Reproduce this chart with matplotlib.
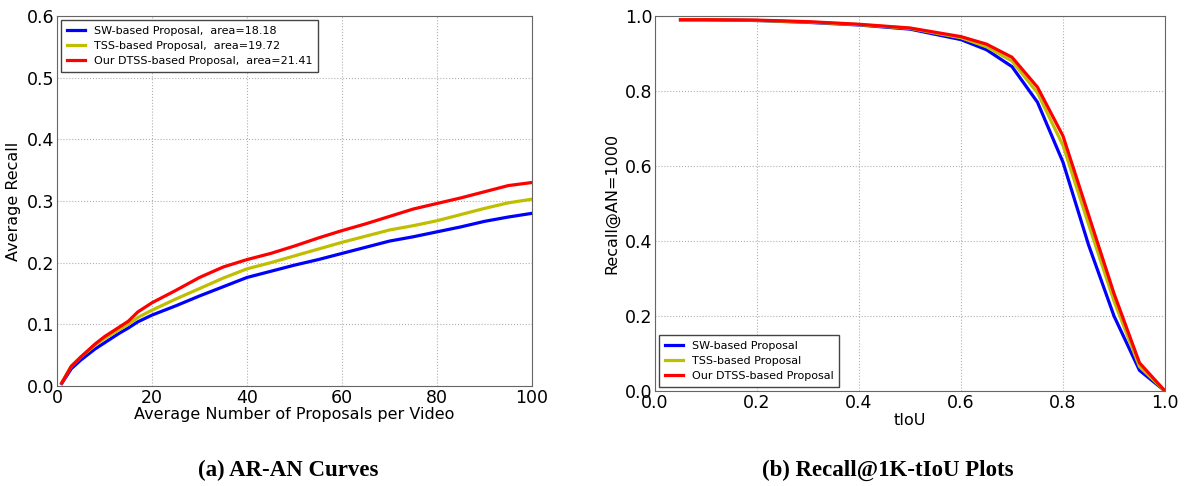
import matplotlib.pyplot as plt

# AR-AN curves (left)
an = [1, 3, 5, 8, 10, 13, 15, 17, 20, 25, 30, 35, 40, 45, 50, 55, 60, 65, 70, 75, 80, 85, 90, 95, 100]
ar_sw = [0.004, 0.028, 0.042, 0.060, 0.070, 0.085, 0.094, 0.104, 0.115, 0.130, 0.146, 0.161, 0.176, 0.186, 0.196, 0.205, 0.215, 0.225, 0.235, 0.242, 0.250, 0.258, 0.267, 0.274, 0.280]
ar_tss = [0.005, 0.032, 0.047, 0.066, 0.077, 0.091, 0.100, 0.111, 0.123, 0.141, 0.158, 0.175, 0.190, 0.200, 0.211, 0.222, 0.233, 0.243, 0.253, 0.260, 0.268, 0.278, 0.288, 0.297, 0.303]
ar_dtss = [0.005, 0.032, 0.047, 0.068, 0.080, 0.095, 0.105, 0.120, 0.135, 0.155, 0.176, 0.193, 0.205, 0.215, 0.227, 0.240, 0.252, 0.263, 0.275, 0.287, 0.296, 0.305, 0.315, 0.325, 0.330]

# Recall@1K vs tIoU (right)
tiou = [0.05, 0.1, 0.2, 0.3, 0.4, 0.5, 0.6, 0.65, 0.7, 0.75, 0.8, 0.85, 0.9, 0.95, 1.0]
rec_sw = [0.990, 0.990, 0.988, 0.983, 0.976, 0.965, 0.937, 0.910, 0.865, 0.770, 0.610, 0.390, 0.200, 0.055, 0.0]
rec_tss = [0.990, 0.990, 0.988, 0.984, 0.977, 0.967, 0.942, 0.918, 0.880, 0.795, 0.655, 0.445, 0.240, 0.065, 0.0]
rec_dtss = [0.990, 0.990, 0.989, 0.985, 0.978, 0.968, 0.945, 0.925, 0.890, 0.810, 0.680, 0.470, 0.260, 0.075, 0.0]

names = ["SW-based Proposal", "TSS-based Proposal", "Our DTSS-based Proposal"]
areas = ["18.18", "19.72", "21.41"]
colors = ["b", "y", "r"]

plt.rcParams['font.family'] = 'DejaVu Sans'
fig = plt.figure(figsize=(11.89, 4.86), dpi=100)
ax1 = fig.add_axes([57 / 1189, 1 - 386 / 486, 475 / 1189, 370 / 486])
ax2 = fig.add_axes([655 / 1189, 1 - 391 / 486, 510 / 1189, 375 / 486])

for ys, n, a, c in zip([ar_sw, ar_tss, ar_dtss], names, areas, colors):
    ax1.plot(an, ys, color=c, lw=2.3, label=f"{n},  area={a}")
for ys, n, c in zip([rec_sw, rec_tss, rec_dtss], names, colors):
    ax2.plot(tiou, ys, color=c, lw=2.3, label=n)

ax1.set_xlim(0, 100)
ax1.set_ylim(0, 0.6)
ax1.set_xticks([0, 20, 40, 60, 80, 100])
ax1.set_yticks([0.0, 0.1, 0.2, 0.3, 0.4, 0.5, 0.6])
ax1.set_xlabel("Average Number of Proposals per Video", fontsize=11.5, labelpad=0)
ax1.set_ylabel("Average Recall", fontsize=11.5, labelpad=4)

ax2.set_xlim(0, 1)
ax2.set_ylim(0, 1)
ax2.set_xticks([0.0, 0.2, 0.4, 0.6, 0.8, 1.0])
ax2.set_yticks([0.0, 0.2, 0.4, 0.6, 0.8, 1.0])
ax2.set_xlabel("tIoU", fontsize=11.5, labelpad=1)
ax2.set_ylabel("Recall@AN=1000", fontsize=11.5, labelpad=4)

for ax in (ax1, ax2):
    ax.grid(True, linestyle=':', color='#b0b0b0', lw=0.8)
    ax.tick_params(labelsize=12.5, direction='in', length=0, pad=2)
    for s in ax.spines.values():
        s.set_color('#666666')

ax1.legend(loc='upper left', fontsize=8, fancybox=False, edgecolor='#444444',
           framealpha=1, handlelength=1.6, borderpad=0.5, labelspacing=0.45,
           borderaxespad=0.4)
ax2.legend(loc='lower left', fontsize=8, fancybox=False, edgecolor='#444444',
           framealpha=1, handlelength=1.6, borderpad=0.5, labelspacing=0.45,
           borderaxespad=0.4)

fig.text(288 / 1189, 1 - 470 / 486, "(a) AR-AN Curves", ha='center', va='center',
         family='Liberation Serif', fontweight='bold', fontsize=16.5)
fig.text(888 / 1189, 1 - 470 / 486, "(b) Recall@1K-tIoU Plots", ha='center', va='center',
         family='Liberation Serif', fontweight='bold', fontsize=16.5)

fig.savefig("out.png", dpi=100)
